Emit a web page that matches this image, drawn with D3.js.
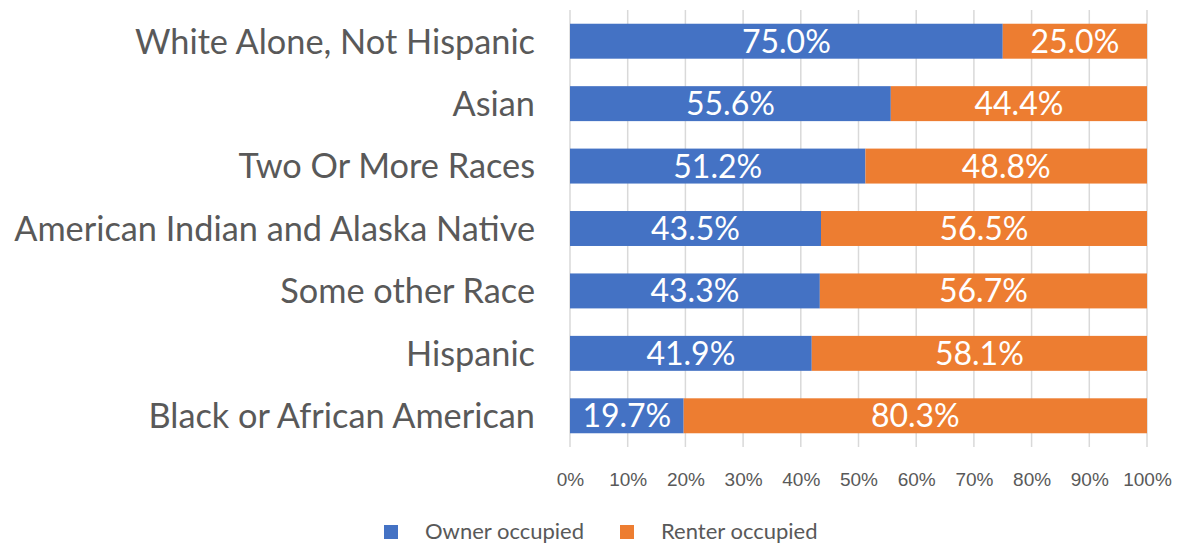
<!DOCTYPE html>
<html><head><meta charset="utf-8">
<script src="https://cdn.jsdelivr.net/npm/d3@7"></script>
<style>body{margin:0;background:#fff;} svg{display:block;font-family:Lato,"Open Sans",sans-serif;}</style>
</head><body>
<svg id="c" width="1180" height="543"></svg>
<script>
const categories = ["White Alone, Not Hispanic","Asian","Two Or More Races","American Indian and Alaska Native","Some other Race","Hispanic","Black or African American"];
const owner = [75.0,55.6,51.2,43.5,43.3,41.9,19.7];
const renter = [25.0,44.4,48.8,56.5,56.7,58.1,80.3];
const seriesNames = ["Owner occupied","Renter occupied"];
const tickValues = [0,10,20,30,40,50,60,70,80,90,100];
const colors = ["#4472C4","#ED7D31"];

const svg = d3.select("#c");
const x = d3.scaleLinear().domain([0,100]).range([570,1147]);
const y = d3.scaleBand().domain(categories).range([10,447]).paddingInner(0.44).paddingOuter(0.22);

// gridlines
svg.append("g").selectAll("line").data(tickValues).join("line")
  .attr("x1",d=>x(d)).attr("x2",d=>x(d)).attr("y1",10).attr("y2",447)
  .attr("stroke","#d9d9d9").attr("stroke-width",1.5);

const rows = categories.map((c,i)=>({c, o:owner[i], r:renter[i]}));
const g = svg.append("g");
g.selectAll("rect.o").data(rows).join("rect").attr("class","o")
  .attr("x",x(0)).attr("y",d=>y(d.c)).attr("width",d=>x(d.o)-x(0)).attr("height",y.bandwidth()).attr("fill",colors[0]);
g.selectAll("rect.r").data(rows).join("rect").attr("class","r")
  .attr("x",d=>x(d.o)).attr("y",d=>y(d.c)).attr("width",d=>x(d.o+d.r)-x(d.o)).attr("height",y.bandwidth()).attr("fill",colors[1]);

const lbl = svg.append("g").attr("fill","#fff").attr("font-size",32).attr("text-anchor","middle");
lbl.selectAll("text.o").data(rows).join("text")
  .attr("x",d=>(x(0)+x(d.o))/2).attr("y",d=>y(d.c)+y.bandwidth()/2).attr("dy","0.36em").text(d=>d.o.toFixed(1)+"%");
lbl.selectAll("text.r").data(rows).join("text")
  .attr("x",d=>(x(d.o)+x(d.o+d.r))/2).attr("y",d=>y(d.c)+y.bandwidth()/2).attr("dy","0.36em").text(d=>d.r.toFixed(1)+"%");

// category axis
svg.append("g").attr("fill","#595959").attr("font-size",34.3).attr("text-anchor","end")
  .selectAll("text").data(categories).join("text")
  .attr("x",535).attr("y",d=>y(d)+y.bandwidth()/2).attr("dy","0.36em").text(d=>d);

// x axis
const xa = svg.append("g").attr("transform","translate(0,479)").call(d3.axisBottom(x).tickValues(tickValues).tickFormat(d=>d+"%").tickSize(0));
xa.select(".domain").remove();
xa.selectAll("text").attr("fill","#595959").attr("font-size",19).attr("font-family",null).attr("dy","0.36em").attr("y",0);

// legend
const leg = svg.append("g");
const lx = [384,620];
seriesNames.forEach((s,i)=>{
  leg.append("rect").attr("x",lx[i]).attr("y",525).attr("width",14).attr("height",14).attr("fill",colors[i]);
  leg.append("text").attr("x",lx[i]+41).attr("y",531).attr("dy","0.36em").attr("font-size",22).attr("fill","#595959").text(s);
});
</script>
</body></html>
